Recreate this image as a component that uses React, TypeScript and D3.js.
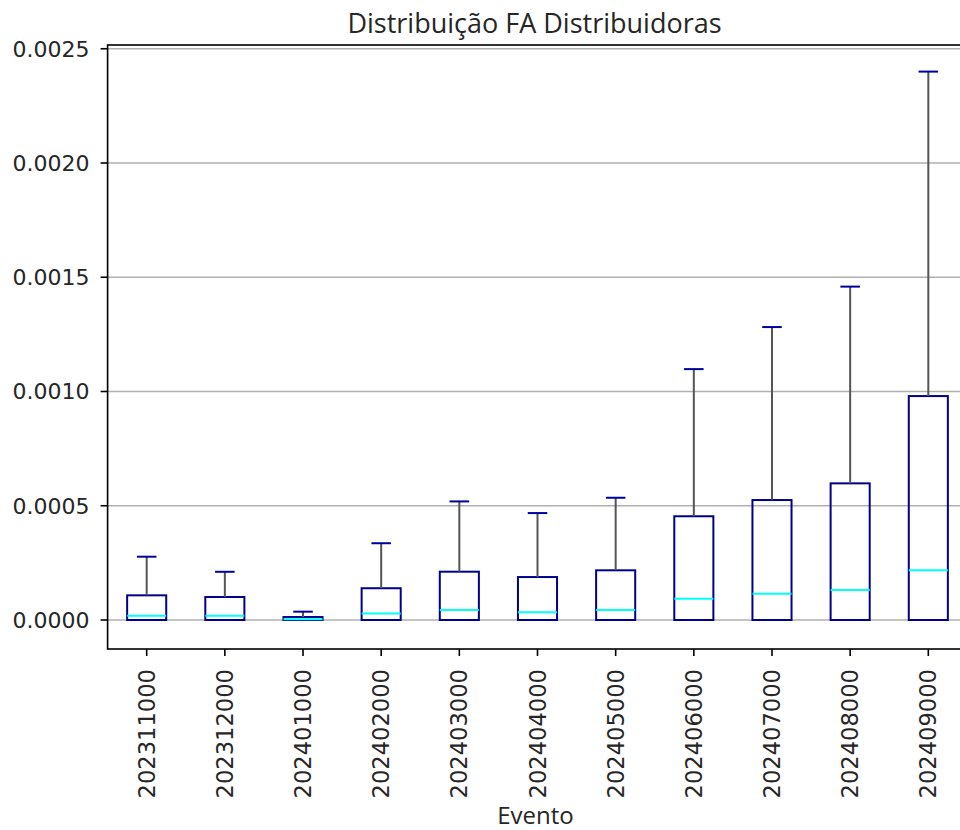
import React, { useEffect, useRef } from "react";
import * as d3 from "d3";

// Monthly event codes on the x axis
const categories = [
  "202311000", "202312000", "202401000", "202402000", "202403000", "202404000",
  "202405000", "202406000", "202407000", "202408000", "202409000",
];

// Box statistics per event
const q1Values = [0, 0, 0, 0, 0, 0, 0, 0, 0, 0, 0];
const medianValues = [
  0.0000188, 0.000019, 0.000003, 0.000029, 0.0000438, 0.0000337,
  0.0000438, 0.0000932, 0.000115, 0.000131, 0.0002175,
];
const q3Values = [
  0.000108, 0.0001007, 0.000013, 0.000139, 0.0002114, 0.000188,
  0.0002175, 0.000454, 0.000525, 0.000598, 0.00098,
];
const whiskerLowValues = [0, 0, 0, 0, 0, 0, 0, 0, 0, 0, 0];
const whiskerHighValues = [
  0.000277, 0.000211, 0.0000365, 0.000336, 0.000519, 0.000468,
  0.000535, 0.001098, 0.001282, 0.001459, 0.0024,
];

const yTicks = [0, 0.0005, 0.001, 0.0015, 0.002, 0.0025];

const W = 960;
const H = 830;
const plot = { left: 107.6, right: 967.4, top: 45, bottom: 649 };

export default function App() {
  const ref = useRef<SVGSVGElement | null>(null);

  useEffect(() => {
    const svg = d3.select(ref.current);
    svg.selectAll("*").remove();

    const x = d3.scaleLinear().domain([0.5, categories.length + 0.5]).range([plot.left, plot.right]);
    const y = d3.scaleLinear().domain([-0.0001269, 0.0025164]).range([plot.bottom, plot.top]);

    const tickFont = "'DejaVu Sans', sans-serif";
    const textFont = "'Open Sans', 'Noto Sans', sans-serif";

    const g = svg.append("g");

    // horizontal grid
    g.selectAll("line.grid")
      .data(yTicks)
      .join("line")
      .attr("class", "grid")
      .attr("x1", plot.left)
      .attr("x2", plot.right)
      .attr("y1", (d) => y(d))
      .attr("y2", (d) => y(d))
      .attr("stroke", "#b0b0b0")
      .attr("stroke-width", 1.6);

    const boxW = x(1.25) - x(1);
    const capW = boxW / 2;

    const data = categories.map((c, i) => ({
      c,
      i: i + 1,
      q1: q1Values[i],
      med: medianValues[i],
      q3: q3Values[i],
      lo: whiskerLowValues[i],
      hi: whiskerHighValues[i],
    }));

    const boxes = g.selectAll("g.box").data(data).join("g").attr("class", "box");

    boxes
      .append("rect")
      .attr("x", (d) => x(d.i) - boxW)
      .attr("y", (d) => y(d.q3))
      .attr("width", boxW * 2)
      .attr("height", (d) => y(d.q1) - y(d.q3))
      .attr("fill", "none")
      .attr("stroke", "#00008b")
      .attr("stroke-width", 2);

    // whiskers
    boxes
      .append("line")
      .attr("x1", (d) => x(d.i))
      .attr("x2", (d) => x(d.i))
      .attr("y1", (d) => y(d.q3))
      .attr("y2", (d) => y(d.hi))
      .attr("stroke", "#555555")
      .attr("stroke-width", 2);
    boxes
      .append("line")
      .attr("x1", (d) => x(d.i))
      .attr("x2", (d) => x(d.i))
      .attr("y1", (d) => y(d.q1))
      .attr("y2", (d) => y(d.lo))
      .attr("stroke", "#555555")
      .attr("stroke-width", 2);

    // caps
    boxes
      .append("line")
      .attr("x1", (d) => x(d.i) - capW)
      .attr("x2", (d) => x(d.i) + capW)
      .attr("y1", (d) => y(d.hi))
      .attr("y2", (d) => y(d.hi))
      .attr("stroke", "#0000a0")
      .attr("stroke-width", 2);
    boxes
      .append("line")
      .attr("x1", (d) => x(d.i) - capW)
      .attr("x2", (d) => x(d.i) + capW)
      .attr("y1", (d) => y(d.lo))
      .attr("y2", (d) => y(d.lo))
      .attr("stroke", "#0000a0")
      .attr("stroke-width", 2);

    // medians
    boxes
      .append("line")
      .attr("x1", (d) => x(d.i) - boxW)
      .attr("x2", (d) => x(d.i) + boxW)
      .attr("y1", (d) => y(d.med))
      .attr("y2", (d) => y(d.med))
      .attr("stroke", "#00ffff")
      .attr("stroke-width", 2);

    // spines
    const spine = "#000000";
    g.append("rect")
      .attr("x", plot.left)
      .attr("y", plot.top)
      .attr("width", plot.right - plot.left)
      .attr("height", plot.bottom - plot.top)
      .attr("fill", "none")
      .attr("stroke", spine)
      .attr("stroke-width", 1.6);

    // y axis ticks and labels
    const yAxis = g.append("g");
    yAxis
      .selectAll("line")
      .data(yTicks)
      .join("line")
      .attr("x1", plot.left - 7)
      .attr("x2", plot.left)
      .attr("y1", (d) => y(d))
      .attr("y2", (d) => y(d))
      .attr("stroke", spine)
      .attr("stroke-width", 1.6);
    yAxis
      .selectAll("text")
      .data(yTicks)
      .join("text")
      .attr("x", plot.left - 18)
      .attr("y", (d) => y(d))
      .attr("dy", "0.36em")
      .attr("text-anchor", "end")
      .attr("font-family", tickFont)
      .attr("font-size", 22)
      .attr("fill", "#262626")
      .text((d) => d3.format(".4f")(d));

    // x axis ticks and rotated labels
    const xAxis = g.append("g");
    xAxis
      .selectAll("line")
      .data(data)
      .join("line")
      .attr("x1", (d) => x(d.i))
      .attr("x2", (d) => x(d.i))
      .attr("y1", plot.bottom)
      .attr("y2", plot.bottom + 7)
      .attr("stroke", spine)
      .attr("stroke-width", 1.6);
    xAxis
      .selectAll("text")
      .data(data)
      .join("text")
      .attr("transform", (d) => `translate(${x(d.i)},${plot.bottom + 20}) rotate(-90)`)
      .attr("dy", "0.36em")
      .attr("text-anchor", "end")
      .attr("font-family", tickFont)
      .attr("font-size", 22.6)
      .attr("fill", "#262626")
      .text((d) => d.c);

    // title and axis label
    svg
      .append("text")
      .attr("x", (plot.left + plot.right) / 2 - 3)
      .attr("y", 33)
      .attr("text-anchor", "middle")
      .attr("font-family", textFont)
      .attr("font-size", 27)
      .attr("fill", "#262626")
      .text("Distribuição FA Distribuidoras");

    svg
      .append("text")
      .attr("x", (plot.left + plot.right) / 2 - 2)
      .attr("y", 824)
      .attr("text-anchor", "middle")
      .attr("font-family", textFont)
      .attr("font-size", 24)
      .attr("fill", "#262626")
      .text("Evento");
  }, []);

  return (
    <svg
      ref={ref}
      width={W}
      height={H}
      style={{ position: "absolute", left: 0, top: 0, display: "block", background: "#ffffff" }}
    />
  );
}
